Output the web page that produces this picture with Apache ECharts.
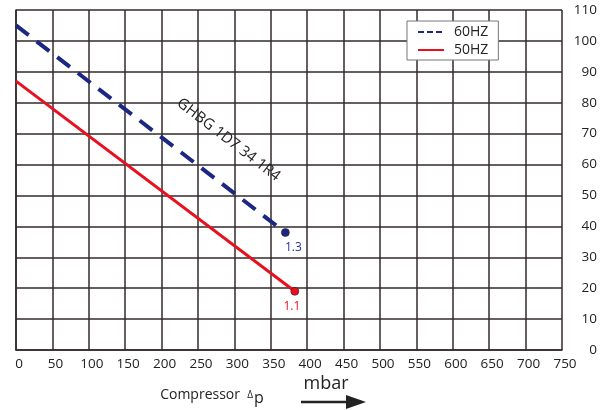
<!DOCTYPE html>
<html>
<head>
<meta charset="utf-8">
<script src="https://cdn.jsdelivr.net/npm/echarts@6/dist/echarts.min.js"></script>
<style>html,body{margin:0;padding:0;background:#fff;}#c{width:605px;height:410px;}</style>
</head>
<body>
<div id="c"></div>
<script>
const xTicks = [0,50,100,150,200,250,300,350,400,450,500,550,600,650,700,750];
const yTicks = [0,10,20,30,40,50,60,70,80,90,100,110];
const seriesNames = ['60HZ', '50HZ'];
const hz60 = [[0,105],[370,38]];
const hz50 = [[0,87],[383,19]];
const endLabels = ['1.3', '1.1'];
const modelText = 'GHBG 1D7 34 1R4';
const modelPos = [292, 68];

const FONT = '"Open Sans", "Noto Sans", sans-serif';
const BLUE = '#1c2783';
const RED = '#e8101e';

function mk(data, endLabel, color, labelColor, off) {
  return data.map((p, i) => {
    if (i < data.length - 1) return { value: p };
    return {
      value: p, symbol: 'circle', symbolSize: 8,
      itemStyle: { color: color, borderColor: '#222', borderWidth: 0.6 },
      label: { show: true, formatter: endLabel, position: 'bottom', distance: 5, offset: off,
        color: labelColor, fontSize: 12, fontFamily: FONT }
    };
  });
}

const chart = echarts.init(document.getElementById('c'), null, { renderer: 'canvas' });
const option = {
  animation: false,
  backgroundColor: '#fff',
  grid: { left: 16, right: 43, top: 10, bottom: 60, show: false },
  legend: {
    orient: 'vertical', left: 407, top: 21, padding: [4, 10, 3, 10],
    itemWidth: 26, itemHeight: 10, itemGap: 4,
    backgroundColor: '#fff', borderColor: '#777', borderWidth: 1,
    itemStyle: { opacity: 0, borderWidth: 0 },
    textStyle: { fontSize: 14, fontFamily: FONT, color: '#222', padding: [0, 0, 0, 5] },
    data: [
      { name: seriesNames[0], lineStyle: { width: 2, type: [6, 3] } },
      { name: seriesNames[1], lineStyle: { width: 2 } }
    ]
  },
  xAxis: {
    type: 'value', min: xTicks[0], max: xTicks[xTicks.length - 1], interval: 50,
    axisLine: { show: true, lineStyle: { color: '#332a2a', width: 1.5 } },
    axisTick: { show: false },
    splitLine: { show: true, lineStyle: { color: '#332a2a', width: 1.5 } },
    axisLabel: { fontSize: 13.5, fontFamily: FONT, color: '#222', margin: 7, padding: [0, 0, 0, 6] }
  },
  yAxis: {
    type: 'value', position: 'right', min: yTicks[0], max: yTicks[yTicks.length - 1], interval: 10,
    axisLine: { show: true, lineStyle: { color: '#332a2a', width: 1.5 } },
    axisTick: { show: false },
    splitLine: { show: true, lineStyle: { color: '#332a2a', width: 1.5 } },
    axisLabel: { fontSize: 13.5, fontFamily: FONT, color: '#222', margin: 35, align: 'right' }
  },
  series: [
    { name: seriesNames[0], type: 'line', symbol: 'none', data: mk(hz60, endLabels[0], BLUE, '#2a2fa0', [8, 0]),
      lineStyle: { color: BLUE, width: 4, type: [16, 10] }, itemStyle: { color: BLUE }, z: 3 },
    { name: seriesNames[1], type: 'line', symbol: 'none', data: mk(hz50, endLabels[1], RED, RED, [-3, 0]),
      lineStyle: { color: RED, width: 3 }, itemStyle: { color: RED }, z: 3 }
  ]
};
chart.setOption(option);

const a = chart.convertToPixel({ gridIndex: 0 }, hz60[0]);
const b = chart.convertToPixel({ gridIndex: 0 }, hz60[1]);
const ang = Math.atan2(b[1] - a[1], b[0] - a[0]);
const tp = chart.convertToPixel({ gridIndex: 0 }, modelPos);

chart.setOption({
  graphic: [
    { type: 'text', x: tp[0], y: tp[1], rotation: -ang, z: 10,
      style: { text: modelText, fontSize: 15, fontFamily: FONT, fill: '#222', align: 'center', verticalAlign: 'middle' } },
    { type: 'text', x: 212, y: 395, z: 10,
      style: {
        text: '{a|Compressor  }{b|Δ}{c|p}', align: 'center', verticalAlign: 'middle',
        rich: {
          a: { fontSize: 14, fontFamily: FONT, fill: '#222' },
          b: { fontSize: 10, fontFamily: FONT, fill: '#222', padding: [0, 1, 0, 0] },
          c: { fontSize: 16, fontFamily: FONT, fill: '#222', padding: [6, 0, 0, 0] }
        }
      } },
    { type: 'text', x: 326, y: 384, z: 10,
      style: { text: 'mbar', fontSize: 18, fontFamily: FONT, fill: '#222', align: 'center', verticalAlign: 'middle' } },
    { type: 'line', z: 10, shape: { x1: 301, y1: 402, x2: 350, y2: 402 }, style: { stroke: '#222', lineWidth: 2.5 } },
    { type: 'polygon', z: 10, shape: { points: [[346, 395], [366, 402], [346, 409]] }, style: { fill: '#222' } }
  ]
});
</script>
</body>
</html>
